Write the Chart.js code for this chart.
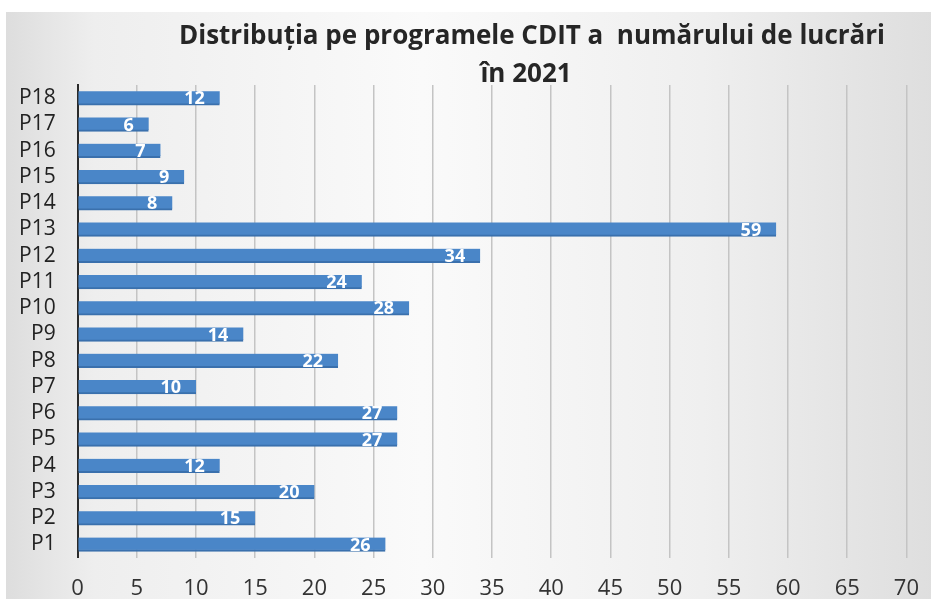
<!DOCTYPE html>
<html>
<head>
<meta charset="utf-8">
<script src="https://cdn.jsdelivr.net/npm/chart.js@4.4.1/dist/chart.umd.min.js"></script>
<style>
  html, body { margin: 0; padding: 0; background: #fff; }
  #wrap { width: 937px; height: 603px; }
</style>
</head>
<body>
<div id="wrap"><canvas id="chart"></canvas></div>
<script>
// data, P1 at the bottom
const categories = ['P18', 'P17', 'P16', 'P15', 'P14', 'P13', 'P12', 'P11', 'P10',
  'P9', 'P8', 'P7', 'P6', 'P5', 'P4', 'P3', 'P2', 'P1'];
const counts = [12, 6, 7, 9, 8, 59, 34, 24, 28, 14, 22, 10, 27, 27, 12, 20, 15, 26];
const xTicks = [0, 5, 10, 15, 20, 25, 30, 35, 40, 45, 50, 55, 60, 65, 70];
const titleLines = ['Distribuția pe programele CDIT a  numărului de lucrări', 'în 2021'];

const FONT = '"Open Sans", "DejaVu Sans", sans-serif';

// grey scanned-paper background
const backdrop = {
  id: 'backdrop',
  beforeDraw(chart) {
    const ctx = chart.ctx;
    const w = chart.width, h = chart.height;
    ctx.save();
    ctx.fillStyle = '#ffffff';
    ctx.fillRect(0, 0, w, h);
    const g = ctx.createLinearGradient(0, 0, w, 0);
    g.addColorStop(0, '#dcdcdc');
    g.addColorStop(0.1, '#eeeeee');
    g.addColorStop(0.45, '#fafafa');
    g.addColorStop(0.75, '#efefef');
    g.addColorStop(1, '#dedede');
    ctx.fillStyle = g;
    ctx.fillRect(6, 12, w - 12, h - 16);
    ctx.restore();
  }
};

// title + white value labels at the end of each bar
const texts = {
  id: 'texts',
  afterDatasetsDraw(chart) {
    const ctx = chart.ctx;
    ctx.save();
    ctx.fillStyle = '#ffffff';
    ctx.font = 'bold 18px ' + FONT;
    ctx.textAlign = 'right';
    ctx.textBaseline = 'middle';
    const meta = chart.getDatasetMeta(0);
    meta.data.forEach((bar, i) => {
      ctx.fillText(String(counts[i]), bar.x - 15, bar.y + 1);
    });
    ctx.restore();
  },
  afterDraw(chart) {
    const ctx = chart.ctx;
    ctx.save();
    ctx.fillStyle = '#262626';
    ctx.font = 'bold 26px ' + FONT;
    ctx.textAlign = 'center';
    ctx.textBaseline = 'middle';
    ctx.fillText(titleLines[0], 532, 37);
    ctx.fillText(titleLines[1], 526, 75);
    ctx.restore();
  }
};

new Chart(document.getElementById('chart'), {
  type: 'bar',
  data: {
    labels: categories,
    datasets: [{
      data: counts,
      backgroundColor: '#4a86c8',
      borderColor: '#3a70ad',
      borderWidth: { top: 0, bottom: 2, left: 0, right: 0 },
      borderSkipped: false,
      barThickness: 14
    }]
  },
  options: {
    indexAxis: 'y',
    responsive: true,
    maintainAspectRatio: false,
    animation: false,
    layout: { padding: { top: 85, right: 13, bottom: -17, left: -3 } },
    plugins: {
      legend: { display: false },
      title: { display: false },
      tooltip: { enabled: false }
    },
    scales: {
      x: {
        min: 0,
        max: 70,
        afterBuildTicks(axis) {
          axis.ticks = xTicks.map(v => ({ value: v }));
        },
        grid: { color: '#c4c4c4', lineWidth: 1.5, drawTicks: false },
        border: { display: false },
        ticks: { color: '#333333', font: { family: FONT, size: 22 }, padding: 18 }
      },
      y: {
        grid: { display: false, drawTicks: false },
        border: { display: true, color: '#2a2a2a', width: 2 },
        ticks: { color: '#222222', font: { family: FONT, size: 21 }, padding: 22, autoSkip: false }
      }
    }
  },
  plugins: [backdrop, texts]
});
</script>
</body>
</html>
